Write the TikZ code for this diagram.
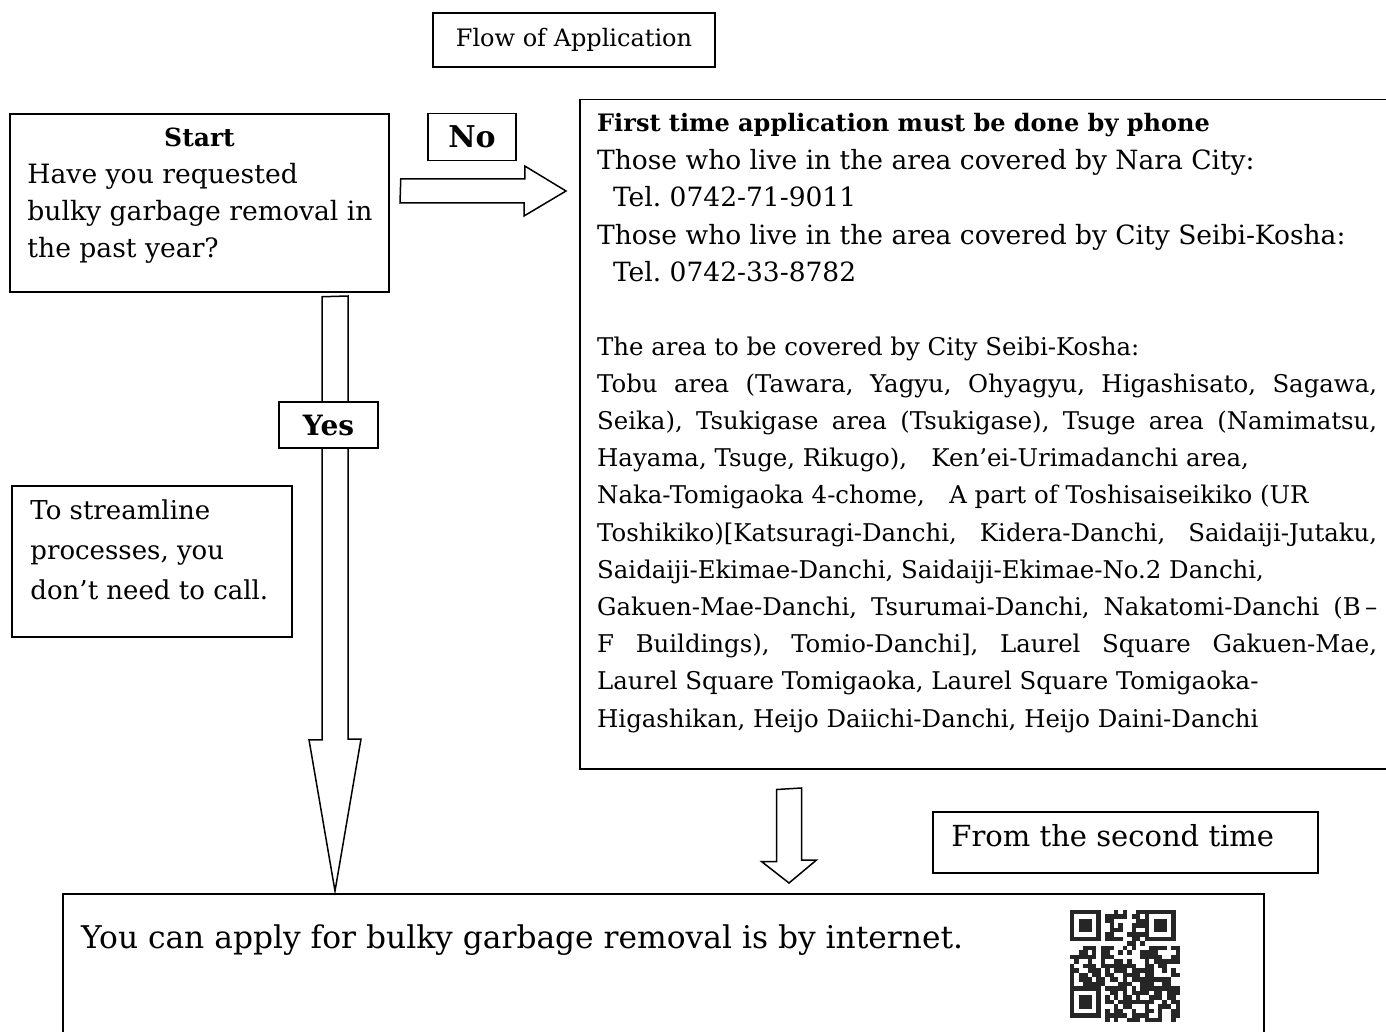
\documentclass[tikz,border=0pt]{standalone}
\usepackage{fontspec}
\setmainfont{DejaVu Serif}
\usetikzlibrary{positioning,calc}
\frenchspacing

\newcommand{\jline}[1]{\makebox[780pt][s]{#1}}

\begin{document}
\begin{tikzpicture}[x=1pt, y=-1pt,
    box/.style={rectangle, draw, line width=1.5pt, fill=white, inner sep=0pt},
    txt/.style={inner sep=0pt, anchor=base west, align=left},
    fatarrow/.style={draw, line width=1.5pt, fill=white, line join=miter}]
    % Canvas
    \useasboundingbox (0,0) rectangle (1386,1032);
    \fill[white] (0,0) rectangle (1386,1032);

    % Title
    \node[box, minimum width=282pt, minimum height=54pt, font=\fontsize{24}{28}\selectfont] (title) at (574,40) {Flow of Application};

    % Start question (text nodes are anchored at their last baseline)
    \node[box, minimum width=379pt, minimum height=178pt] (start) at (199.5,203) {};
    \node[txt, anchor=base, font=\bfseries\fontsize{25}{37}\selectfont] (startlbl) at ([yshift=-33pt]start.north) {Start};
    \node[txt, font=\fontsize{26.6}{37}\selectfont] (question) at ([xshift=18pt,yshift=-144pt]start.north west) {Have you requested\\bulky garbage removal in\\the past year?};

    % No branch
    \node[box, minimum width=88pt, minimum height=47pt, font=\bfseries\fontsize{30}{34}\selectfont] (no) at (472,137) {No};
    \node[box, minimum width=811pt, minimum height=669pt, anchor=north west] (info) at (579,99) {};
    \node[txt, font=\fontsize{26.5}{37.5}\selectfont] (phone) at ([xshift=18pt,yshift=-183pt]info.north west) {{\bfseries\fontsize{24}{37.5}\selectfont First time application must be done by phone}\\
        Those who live in the area covered by Nara City:\\
        \hspace*{0.6em}Tel. 0742-71-9011\\
        Those who live in the area covered by City Seibi-Kosha:\\
        \hspace*{0.6em}Tel. 0742-33-8782};
    \node[txt, font=\fontsize{24.4}{37.2}\selectfont] (area) at ([xshift=18pt,yshift=-628pt]info.north west) {The area to be covered by City Seibi-Kosha:\\
        \jline{Tobu area (Tawara, Yagyu, Ohyagyu, Higashisato, Sagawa,}\\
        \jline{Seika), Tsukigase area (Tsukigase), Tsuge area (Namimatsu,}\\
        Hayama, Tsuge, Rikugo),\quad Ken’ei-Urimadanchi area,\\
        Naka-Tomigaoka 4-chome,\quad A part of Toshisaiseikiko (UR\\
        \jline{Toshikiko)[Katsuragi-Danchi, Kidera-Danchi, Saidaiji-Jutaku,}\\
        Saidaiji-Ekimae-Danchi, Saidaiji-Ekimae-No.2 Danchi,\\
        \jline{Gakuen-Mae-Danchi, Tsurumai-Danchi, Nakatomi-Danchi (B\,–}\\
        \jline{F Buildings), Tomio-Danchi], Laurel Square Gakuen-Mae,}\\
        Laurel Square Tomigaoka, Laurel Square Tomigaoka-\\
        Higashikan, Heijo Daiichi-Danchi, Heijo Daini-Danchi};

    \coordinate (noTail) at ([xshift=11pt,yshift=12pt]start.east);
    \coordinate (noTip) at ($(info.west |- noTail)+(-13,0)$);
    \draw[fatarrow] (noTail) ++(0,-12) -- ++(124,0) -- ++(0,-13) -- (noTip) -- ++(-42,25) -- ++(0,-13) -- ++(-124,0) -- cycle;

    % Final box
    \node[box, minimum width=1201pt, minimum height=160pt, anchor=north west] (final) at (62,893) {};
    \node[txt, font=\fontsize{31.3}{36}\selectfont] (finaltext) at ([xshift=19pt,yshift=-55pt]final.north west) {You can apply for bulky garbage removal is by internet.};

    % Yes branch
    \coordinate (yesTail) at ($(start.south)+(135.5,4)$);
    \coordinate (yesTip) at ($(yesTail |- final.north)+(0,-2)$);
    \draw[fatarrow] (yesTail) ++(-13,0) -- ++(0,443) -- ++(-13,0) -- (yesTip) -- ++(26,-152) -- ++(-13,0) -- ++(0,-443) -- cycle;
    \node[box, minimum width=99pt, minimum height=46pt, font=\bfseries\fontsize{28}{32}\selectfont] (yes) at (328.5,425) {Yes};

    % Side note
    \node[box, minimum width=280pt, minimum height=151pt] (note) at (152,561.5) {};
    \node[txt, font=\fontsize{26}{40}\selectfont] (notetext) at ([xshift=19pt,yshift=-114pt]note.north west) {To streamline\\processes, you\\don’t need to call.};

    % Second time
    \node[box, minimum width=385pt, minimum height=61pt] (second) at (1125.5,842.5) {};
    \node[txt, font=\fontsize{29}{34}\selectfont] (secondtext) at ([xshift=19pt,yshift=-35pt]second.north west) {From the second time};

    \coordinate (moreTail) at ($(info.south west)+(210,20)$);
    \coordinate (moreTip) at ($(moreTail |- final.north)+(0,-10)$);
    \draw[fatarrow] (moreTail) ++(-12.5,0) -- ++(0,72) -- ++(-15,0) -- (moreTip) -- ++(27.5,-23) -- ++(-15,0) -- ++(0,-72) -- cycle;

    % QR code
    \node[minimum width=110pt, minimum height=112pt, inner sep=0pt, anchor=north west] (qr) at (1070,910) {};
    \begin{scope}[shift={(qr.north west)}]
      \pgfmathsetseed{11}
      \foreach \i in {0,...,24}{
        \foreach \j in {0,...,24}{
          \pgfmathtruncatemacro{\finder}{(\i<8 && \j<8) || (\i>16 && \j<8) || (\i<8 && \j>16)}
          \ifnum\finder=0
            \pgfmathtruncatemacro{\qrbit}{rnd<0.58}
            \ifnum\qrbit=1 \fill[black!85] (\i*4.4,\j*4.48) rectangle ++(4.4,4.48); \fi
          \fi
        }
      }
      \foreach \fx/\fy in {0/0, 74.8/0, 0/76.16}{
        \fill[black!85] (\fx,\fy) rectangle ++(30.8,31.36);
        \fill[white] (\fx+4.4,\fy+4.48) rectangle ++(22,22.4);
        \fill[black!85] (\fx+8.8,\fy+8.96) rectangle ++(13.2,13.44);
      }
    \end{scope}
\end{tikzpicture}
\end{document}
